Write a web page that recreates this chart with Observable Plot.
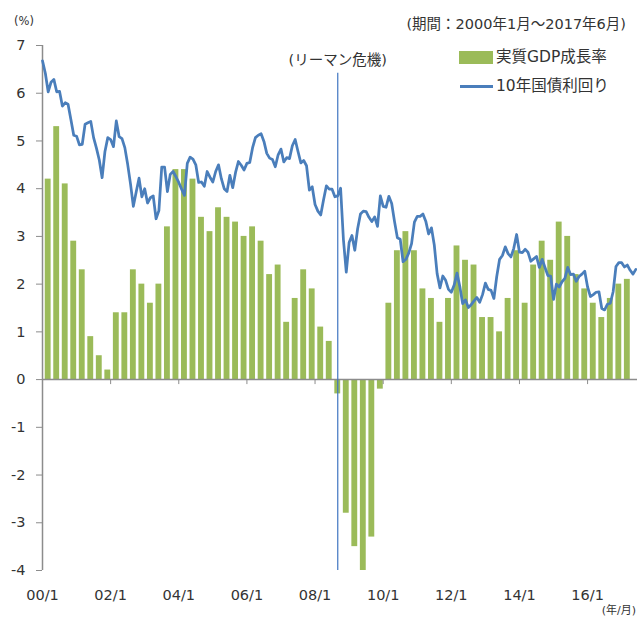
<!DOCTYPE html>
<html><head><meta charset="utf-8">
<script src="https://cdn.jsdelivr.net/npm/d3@7"></script>
<script src="https://cdn.jsdelivr.net/npm/@observablehq/plot@0.6"></script>
<style>
body{margin:0;background:#fff;}
#wrap{position:relative;width:637px;height:618px;overflow:hidden;font-family:"DejaVu Sans","Noto Sans CJK JP",sans-serif;color:#333;}
.lbl{position:absolute;white-space:nowrap;line-height:1;transform:translateY(-50%);}
#wrap svg{position:absolute;left:0;top:0;}
</style></head><body><div id="wrap"></div>
<script>
// Real GDP growth (YoY, %), quarterly 2000Q1 .. 2017Q1
const gdpGrowth = [
  4.2, 5.3, 4.1, 2.9,   // 2000
  2.3, 0.9, 0.5, 0.2,   // 2001
  1.4, 1.4, 2.3, 2.0,   // 2002
  1.6, 2.0, 3.2, 4.4,   // 2003
  4.4, 4.2, 3.4, 3.1,   // 2004
  3.6, 3.4, 3.3, 3.0,   // 2005
  3.2, 2.9, 2.2, 2.4,   // 2006
  1.2, 1.7, 2.3, 1.9,   // 2007
  1.1, 0.8, -0.3, -2.8, // 2008
  -3.5, -4.0, -3.3, -0.2, // 2009
  1.6, 2.7, 3.1, 2.7,   // 2010
  1.9, 1.7, 1.2, 1.7,   // 2011
  2.8, 2.5, 2.4, 1.3,   // 2012
  1.3, 1.0, 1.7, 2.7,   // 2013
  1.6, 2.4, 2.9, 2.5,   // 2014
  3.3, 3.0, 2.2, 1.9,   // 2015
  1.6, 1.3, 1.7, 2.0,   // 2016
  2.1                   // 2017
];
// 10-year government bond yield (%), monthly 2000/1 .. 2017/6
const yield10y = [
  6.68, 6.42, 6.03, 6.23, 6.29, 6.03, 6.04, 5.73, 5.80, 5.77, 5.45, 5.12, // 2000
  5.10, 4.92, 4.93, 5.35, 5.38, 5.41, 5.07, 4.85, 4.60, 4.23, 4.78, 5.07, // 2001
  5.03, 4.88, 5.42, 5.09, 5.05, 4.86, 4.51, 4.10, 3.63, 3.93, 4.22, 3.83, // 2002
  4.00, 3.70, 3.81, 3.85, 3.37, 3.54, 4.45, 4.45, 3.94, 4.30, 4.36, 4.25, // 2003
  4.13, 3.99, 3.86, 4.53, 4.66, 4.62, 4.50, 4.13, 4.14, 4.05, 4.36, 4.24, // 2004
  4.14, 4.36, 4.50, 4.21, 4.00, 3.94, 4.28, 4.02, 4.34, 4.57, 4.49, 4.39, // 2005
  4.53, 4.55, 4.86, 5.07, 5.12, 5.15, 4.99, 4.74, 4.64, 4.61, 4.46, 4.71, // 2006
  4.83, 4.56, 4.65, 4.63, 4.90, 5.03, 4.78, 4.54, 4.59, 4.48, 3.97, 4.04, // 2007
  3.67, 3.53, 3.45, 3.77, 4.06, 3.99, 3.99, 3.83, 3.85, 4.01, 2.93, 2.25, // 2008
  2.87, 3.02, 2.71, 3.16, 3.47, 3.53, 3.52, 3.40, 3.31, 3.41, 3.21, 3.85, // 2009
  3.63, 3.61, 3.84, 3.69, 3.31, 2.97, 2.94, 2.47, 2.52, 2.65, 2.85, 3.30, // 2010
  3.42, 3.42, 3.47, 3.32, 3.05, 3.18, 2.82, 2.22, 1.92, 2.17, 2.08, 1.89, // 2011
  1.83, 1.98, 2.23, 1.95, 1.59, 1.67, 1.51, 1.57, 1.65, 1.72, 1.62, 1.78, // 2012
  2.02, 1.89, 1.87, 1.70, 2.16, 2.52, 2.60, 2.78, 2.64, 2.57, 2.75, 3.04, // 2013
  2.67, 2.66, 2.73, 2.67, 2.48, 2.53, 2.58, 2.35, 2.52, 2.35, 2.18, 2.17, // 2014
  1.68, 2.00, 1.94, 2.05, 2.12, 2.35, 2.20, 2.21, 2.06, 2.16, 2.21, 2.27, // 2015
  1.94, 1.74, 1.78, 1.83, 1.84, 1.49, 1.46, 1.58, 1.60, 1.84, 2.37, 2.45, // 2016
  2.45, 2.36, 2.40, 2.29, 2.21, 2.31                                      // 2017
];
const startYear = 2000;
const xTickYears = [2000, 2002, 2004, 2006, 2008, 2010, 2012, 2014, 2016];
const xTickLabels = ["00/1", "02/1", "04/1", "06/1", "08/1", "10/1", "12/1", "14/1", "16/1"];
const yTicks = [-4, -3, -2, -1, 0, 1, 2, 3, 4, 5, 6, 7];
const lehmanMonth = {year: 2008, month: 9};
const lehmanLabel = "(リーマン危機)";
const legendLabels = ["実質GDP成長率", "10年国債利回り"];
const periodLabel = "(期間：2000年1月～2017年6月)";
const unitLabel = "(%)";
const xUnitLabel = "(年/月)";

// build tables
const gdp = gdpGrowth.map((v, i) => ({t: startYear + i * 0.25 + 2 / 12, v}));
const yields = yield10y.map((v, i) => ({t: startYear + i / 12, v}));
const lehmanT = lehmanMonth.year + (lehmanMonth.month - 1) / 12;

const W = 637, H = 618, mT = 45, mB = 48, mL = 42, mR = 0;
const xDomain = [2000, 2017.465];
const yDomain = [-4, 7];
const pxPerUnit = (H - mT - mB) / (yDomain[1] - yDomain[0]);
const tickDown = 5 / pxPerUnit;
const lehmanTop = 6.42;
const halfBar = 0.086;
const green = "#9bbb59", blue = "#4a7ebb", axisGray = "#8c8c8c";

const chart = Plot.plot({
  width: W, height: H,
  marginLeft: mL, marginRight: mR, marginTop: mT, marginBottom: mB,
  x: {domain: xDomain, label: null},
  y: {domain: yDomain, label: null},
  style: {fontFamily: '"DejaVu Sans","Noto Sans CJK JP",sans-serif', fontSize: "14.5px", color: "#333", background: "transparent"},
  marks: [
    Plot.rect(gdp, {x1: d => d.t - halfBar, x2: d => d.t + halfBar, y1: 0, y2: "v", fill: green}),
    Plot.ruleY([0], {stroke: axisGray, strokeWidth: 1.5}),
    Plot.ruleX(xTickYears, {x: d => d, y1: 0, y2: -tickDown, stroke: axisGray, strokeWidth: 1}),
    Plot.ruleX([xDomain[0]], {stroke: axisGray, strokeWidth: 1.5}),
    Plot.ruleX([lehmanT], {x: d => d, y1: yDomain[0], y2: lehmanTop, stroke: "#3f75c0", strokeWidth: 1.2}),
    Plot.line(yields, {x: "t", y: "v", stroke: blue, strokeWidth: 2.75, strokeLinejoin: "round", strokeLinecap: "round"}),
    Plot.axisY({ticks: yTicks, tickSize: 6, tickPadding: 11, tickFormat: d => String(d), stroke: axisGray, label: null}),
    Plot.axisX({ticks: xTickYears, tickSize: 0, tickPadding: 19, tickFormat: d => xTickLabels[xTickYears.indexOf(d)], label: null}),
    Plot.text([lehmanLabel], {x: () => lehmanT, text: d => d, frameAnchor: "top", dy: 9, fontSize: 14.5, fill: "#333"})
  ]
});

const wrap = document.getElementById("wrap");
wrap.appendChild(chart);

function addLabel(text, left, cy, size, extra) {
  const el = document.createElement("div");
  el.className = "lbl";
  el.textContent = text;
  el.style.left = left + "px";
  el.style.top = cy + "px";
  el.style.fontSize = size + "px";
  if (extra) Object.assign(el.style, extra);
  wrap.appendChild(el);
  return el;
}
addLabel(unitLabel, 14, 22, 11.5);
const p = addLabel(periodLabel, 0, 24, 14.5);
p.style.left = "auto"; p.style.right = "11px";
// legend
const sw = document.createElement("div");
Object.assign(sw.style, {position: "absolute", left: "459px", top: "51px", width: "34px", height: "13px", background: green});
wrap.appendChild(sw);
const ln = document.createElement("div");
Object.assign(ln.style, {position: "absolute", left: "460px", top: "85.3px", width: "33px", height: "2.8px", background: blue});
wrap.appendChild(ln);
addLabel(legendLabels[0], 496, 58, 15.5);
addLabel(legendLabels[1], 496, 87, 15.5);
const u = addLabel(xUnitLabel, 0, 610, 11);
u.style.left = "auto"; u.style.right = "1px";
</script>
</body></html>
